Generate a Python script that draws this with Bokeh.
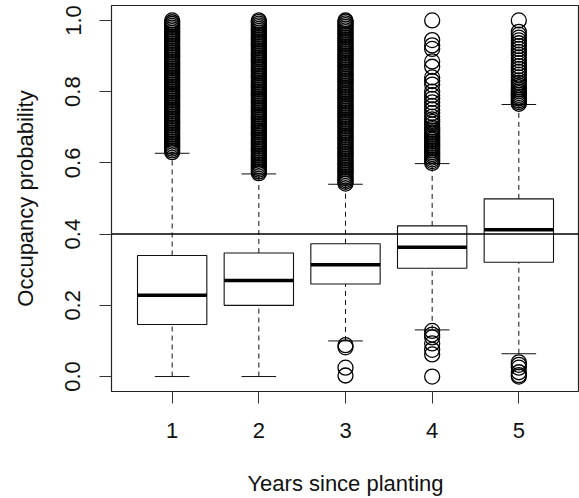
from bokeh.plotting import figure
from bokeh.models import Range1d, Span, FixedTicker, ColumnDataSource
from bokeh.transform import dodge
from bokeh.embed import file_html
from bokeh.resources import INLINE

# ---- data ----
years = [1, 2, 3, 4, 5]
year_labels = ["1", "2", "3", "4", "5"]
q1 = [0.146, 0.200, 0.260, 0.304, 0.321]
med = [0.228, 0.270, 0.314, 0.363, 0.412]
q3 = [0.340, 0.347, 0.373, 0.423, 0.499]
whisk_lo = [0.000, 0.000, 0.100, 0.131, 0.064]
whisk_hi = [0.627, 0.569, 0.540, 0.598, 0.764]

y_ticks = [0.0, 0.2, 0.4, 0.6, 0.8, 1.0]
y_tick_labels = ["0.0", "0.2", "0.4", "0.6", "0.8", "1.0"]
threshold = 0.4

out1 = [0.630, 0.635, 0.640, 0.645, 0.650, 0.655, 0.660, 0.665, 0.670, 0.675,
        0.680, 0.685, 0.690, 0.695, 0.700, 0.705, 0.710, 0.715, 0.720, 0.725,
        0.730, 0.735, 0.740, 0.745, 0.750, 0.755, 0.760, 0.765, 0.770, 0.775,
        0.780, 0.785, 0.790, 0.795, 0.800, 0.805, 0.810, 0.815, 0.820, 0.825,
        0.830, 0.835, 0.840, 0.845, 0.850, 0.855, 0.860, 0.865, 0.870, 0.875,
        0.880, 0.885, 0.890, 0.895, 0.900, 0.905, 0.910, 0.915, 0.920, 0.925,
        0.930, 0.935, 0.940, 0.945, 0.950, 0.955, 0.960, 0.965, 0.970, 0.975,
        0.980, 0.985, 0.990, 0.995, 1.000]
out2 = [0.571, 0.576, 0.581, 0.586, 0.591, 0.596, 0.601, 0.606, 0.611, 0.616,
        0.621, 0.626, 0.631, 0.636, 0.641, 0.646, 0.651, 0.656, 0.661, 0.666,
        0.671, 0.676, 0.681, 0.686, 0.691, 0.696, 0.701, 0.706, 0.711, 0.716,
        0.721, 0.726, 0.731, 0.736, 0.741, 0.746, 0.751, 0.756, 0.761, 0.766,
        0.771, 0.776, 0.781, 0.786, 0.791, 0.796, 0.801, 0.806, 0.811, 0.816,
        0.821, 0.826, 0.831, 0.836, 0.841, 0.846, 0.851, 0.856, 0.861, 0.866,
        0.871, 0.876, 0.881, 0.886, 0.891, 0.896, 0.901, 0.906, 0.911, 0.916,
        0.921, 0.926, 0.931, 0.936, 0.941, 0.946, 0.951, 0.956, 0.961, 0.966,
        0.971, 0.976, 0.981, 0.986, 0.991, 0.996, 1.000]
out3 = [0.542, 0.547, 0.552, 0.557, 0.562, 0.567, 0.572, 0.577, 0.582, 0.587,
        0.592, 0.597, 0.602, 0.607, 0.612, 0.617, 0.622, 0.627, 0.632, 0.637,
        0.642, 0.647, 0.652, 0.657, 0.662, 0.667, 0.672, 0.677, 0.682, 0.687,
        0.692, 0.697, 0.702, 0.707, 0.712, 0.717, 0.722, 0.727, 0.732, 0.737,
        0.742, 0.747, 0.752, 0.757, 0.762, 0.767, 0.772, 0.777, 0.782, 0.787,
        0.792, 0.797, 0.802, 0.807, 0.812, 0.817, 0.822, 0.827, 0.832, 0.837,
        0.842, 0.847, 0.852, 0.857, 0.862, 0.867, 0.872, 0.877, 0.882, 0.887,
        0.892, 0.897, 0.902, 0.907, 0.912, 0.917, 0.922, 0.927, 0.932, 0.937,
        0.942, 0.947, 0.952, 0.957, 0.962, 0.967, 0.972, 0.977, 0.982, 0.987,
        0.992, 0.997, 1.000,
        0.088, 0.082, 0.025, 0.003]
out4 = [0.600, 0.605, 0.610, 0.615, 0.620, 0.625, 0.630, 0.635, 0.640, 0.645,
        0.650, 0.655, 0.660, 0.665, 0.670, 0.675, 0.680, 0.685, 0.690, 0.695,
        0.700, 0.708, 0.715, 0.722, 0.730, 0.740, 0.750, 0.760, 0.770, 0.780,
        0.790, 0.800, 0.820, 0.830, 0.840, 0.870, 0.885, 0.920, 0.930, 0.945,
        1.000,
        0.128, 0.118, 0.110, 0.093, 0.075, 0.062, 0.000]
out5 = [0.766, 0.771, 0.776, 0.781, 0.786, 0.791, 0.796, 0.801, 0.806, 0.812,
        0.818, 0.825, 0.832, 0.840, 0.848, 0.856, 0.864, 0.872, 0.880, 0.888,
        0.896, 0.904, 0.912, 0.920, 0.928, 0.936, 0.944, 0.952, 0.960, 0.968,
        1.000,
        0.040, 0.033, 0.025, 0.012, 0.004, 0.000]
outliers = [out1, out2, out3, out4, out5]
x_title = "Years since planting"
y_title = "Occupancy probability"

# ---- build ----
FONT = "Liberation Sans"
INK = "#111111"

src = ColumnDataSource(dict(x=years, q1=q1, med=med, q3=q3, lo=whisk_lo, hi=whisk_hi))
ox, oy = [], []
for yr, vals in zip(years, outliers):
    ox += [yr] * len(vals)
    oy += vals
osrc = ColumnDataSource(dict(x=ox, y=oy))

p = figure(width=579, height=498,
           x_range=Range1d(0.3, 5.7), y_range=Range1d(-0.042, 1.042),
           output_backend="svg", toolbar_location=None,
           min_border_left=111, min_border_right=0,
           min_border_top=5, min_border_bottom=106)
p.background_fill_color = "white"
p.border_fill_color = "white"
p.outline_line_color = "#222222"
p.outline_line_width = 1.2
p.xgrid.visible = False
p.ygrid.visible = False

# whiskers
p.segment(x0="x", y0="q3", x1="x", y1="hi", source=src,
          line_color=INK, line_width=1, line_dash="5 4")
p.segment(x0="x", y0="lo", x1="x", y1="q1", source=src,
          line_color=INK, line_width=1, line_dash="5 4")
# caps
p.segment(x0=dodge("x", -0.2), x1=dodge("x", 0.2), y0="hi", y1="hi", source=src,
          line_color=INK, line_width=1)
p.segment(x0=dodge("x", -0.2), x1=dodge("x", 0.2), y0="lo", y1="lo", source=src,
          line_color=INK, line_width=1)
# boxes
p.vbar(x="x", width=0.8, bottom="q1", top="q3", source=src,
       fill_color="white", line_color=INK, line_width=1.1)
# medians
p.segment(x0=dodge("x", -0.4), x1=dodge("x", 0.4), y0="med", y1="med", source=src,
          line_color="black", line_width=3.5)
# outliers
p.scatter(x="x", y="y", source=osrc, marker="circle", size=15,
          fill_color=None, line_color="black", line_width=1.3)

p.add_layout(Span(location=threshold, dimension="width",
                  line_color="black", line_width=1.5))

# axes
p.xaxis.ticker = FixedTicker(ticks=years)
p.xaxis.major_label_overrides = {y: l for y, l in zip(years, year_labels)}
p.yaxis.ticker = FixedTicker(ticks=y_ticks)
p.yaxis.major_label_overrides = {t: l for t, l in zip(y_ticks, y_tick_labels)}
p.yaxis.major_label_orientation = "vertical"
p.xaxis.axis_label = x_title
p.yaxis.axis_label = y_title
for ax in (p.xaxis, p.yaxis):
    ax.axis_line_color = None
    ax.minor_tick_line_color = None
    ax.major_tick_out = 12
    ax.major_tick_in = 0
    ax.major_tick_line_color = "#333333"
    ax.major_tick_line_width = 1
    ax.major_label_text_font = FONT
    ax.major_label_text_font_size = "22px"
    ax.major_label_text_color = INK
    ax.axis_label_text_font = FONT
    ax.axis_label_text_font_size = "22px"
    ax.axis_label_text_font_style = "normal"
    ax.axis_label_text_color = INK
p.xaxis.major_label_standoff = 19
p.xaxis.axis_label_standoff = 30
p.yaxis.major_label_standoff = 19
p.yaxis.axis_label_standoff = 25

open("out.html", "w").write(file_html(p, INLINE))
